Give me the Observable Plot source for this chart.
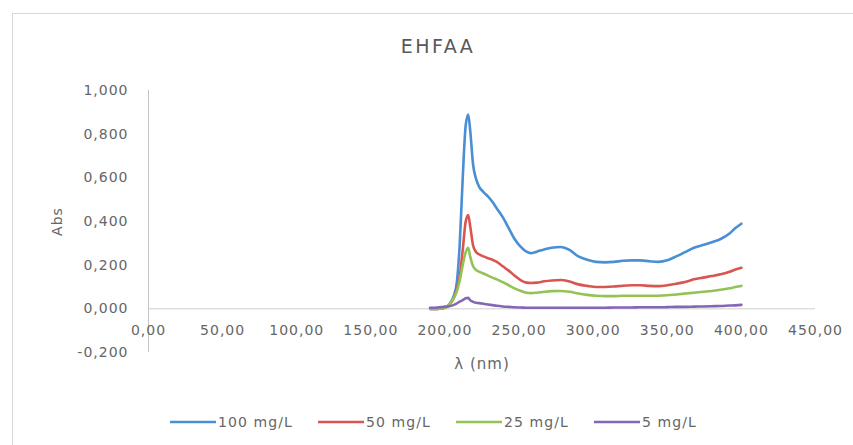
<!DOCTYPE html>
<html>
<head>
<meta charset="utf-8">
<script src="https://cdn.jsdelivr.net/npm/d3@7"></script>
<script src="https://cdn.jsdelivr.net/npm/@observablehq/plot@0.6"></script>
<style>
  html, body { margin: 0; padding: 0; background: #fff; width: 853px; height: 445px; overflow: hidden; }
  body { position: relative; font-family: "DejaVu Sans", sans-serif; color: #666; }
  #frame { position: absolute; left: 12px; top: 13px; width: 900px; height: 500px; border: 1px solid #d9d9d9; box-sizing: border-box; }
  #title { position: absolute; left: 0; width: 876px; top: 35px; text-align: center; font-size: 19px; letter-spacing: 2.5px; line-height: 22px; color: #595959; }
  #chart { position: absolute; left: 0; top: 70px; }
  #legend { position: absolute; left: 0; width: 867px; top: 412px; display: flex; justify-content: center; gap: 25px; font-size: 14px; letter-spacing: 1.1px; line-height: 20px; color: #666; }
  .item { display: flex; align-items: center; gap: 2px; }
  .item svg { display: block; }
</style>
</head>
<body>
<div id="frame"></div>
<div id="title">EHFAA</div>
<div id="chart"></div>
<div id="legend"></div>
<script>
// Data
const wavelengths = [190,195,200,203,206,208,210,212,214,215.7,217,219,221,223,226,229,232,235,239,243,247,251,255,258,262,267,272,278,284,290,296,302,308,314,320,326,332,338,344,350,356,362,368,374,380,386,392,396,400];
const abs100 = [0.000,0.000,0.005,0.020,0.060,0.120,0.300,0.600,0.840,0.890,0.820,0.660,0.595,0.560,0.535,0.515,0.490,0.460,0.420,0.370,0.320,0.285,0.262,0.255,0.262,0.272,0.280,0.283,0.270,0.240,0.225,0.215,0.213,0.215,0.220,0.222,0.222,0.218,0.215,0.222,0.240,0.260,0.280,0.292,0.305,0.320,0.345,0.370,0.390];
const abs50 = [0.000,0.000,0.005,0.020,0.050,0.090,0.150,0.270,0.400,0.430,0.380,0.290,0.260,0.250,0.240,0.232,0.225,0.215,0.195,0.175,0.152,0.132,0.120,0.118,0.120,0.126,0.130,0.132,0.125,0.112,0.105,0.100,0.100,0.102,0.106,0.108,0.108,0.105,0.104,0.108,0.115,0.123,0.135,0.143,0.150,0.158,0.170,0.180,0.188];
const abs25 = [0.000,0.000,0.005,0.020,0.050,0.080,0.130,0.200,0.260,0.280,0.240,0.195,0.178,0.170,0.162,0.152,0.143,0.135,0.122,0.108,0.094,0.083,0.074,0.072,0.074,0.078,0.081,0.082,0.078,0.070,0.064,0.060,0.058,0.058,0.060,0.060,0.060,0.060,0.060,0.062,0.066,0.070,0.074,0.078,0.082,0.087,0.094,0.100,0.105];
const abs5 = [0.005,0.006,0.010,0.012,0.018,0.025,0.033,0.040,0.048,0.050,0.040,0.032,0.028,0.026,0.023,0.020,0.017,0.014,0.011,0.009,0.007,0.006,0.005,0.005,0.005,0.005,0.005,0.005,0.005,0.005,0.005,0.005,0.005,0.006,0.006,0.006,0.007,0.007,0.007,0.008,0.009,0.009,0.010,0.011,0.012,0.013,0.015,0.016,0.018];
const seriesNames = ["100 mg/L", "50 mg/L", "25 mg/L", "5 mg/L"];
const seriesValues = [abs100, abs50, abs25, abs5];
const seriesColors = ["#4a8ed4", "#d95550", "#93c355", "#8466b4"];
const xTicks = [0, 50, 100, 150, 200, 250, 300, 350, 400, 450];
const yTicks = [-0.2, 0, 0.2, 0.4, 0.6, 0.8, 1.0];

const rows = [];
seriesNames.forEach((name, i) => {
  wavelengths.forEach((w, j) => rows.push({series: name, wl: w, abs: seriesValues[i][j]}));
});

const fmtX = d => d.toFixed(2).replace(".", ",");
const fmtY = d => d.toFixed(3).replace(".", ",");

const chart = Plot.plot({
  width: 853,
  height: 325,
  marginTop: 20,
  marginBottom: 43,
  marginLeft: 148,
  marginRight: 38,
  style: {fontFamily: "DejaVu Sans, sans-serif", fontSize: "14px", color: "#666", background: "transparent", letterSpacing: "1px"},
  x: {domain: [0, 450], axis: null},
  y: {domain: [-0.2, 1.0]},
  color: {domain: seriesNames, range: seriesColors},
  marks: [
    Plot.ruleY([0], {stroke: "#cfcfcf", strokeWidth: 1}),
    Plot.ruleX([0], {stroke: "#c4c4c4", strokeWidth: 1}),
    Plot.axisY(yTicks, {tickSize: 0, tickPadding: 20, tickFormat: fmtY, label: "Abs", labelAnchor: "center", labelArrow: "none", labelOffset: 96, fill: "#666"}),
    Plot.text(xTicks, {x: d => d, y: 0, dy: 22, text: d => fmtX(d), fill: "#666", textAnchor: "middle", fontSize: 14}),
    Plot.text(["λ (nm)"], {frameAnchor: "bottom", dy: 16, fill: "#666", fontSize: 15}),
    Plot.line(rows, {x: "wl", y: "abs", z: "series", stroke: "series", strokeWidth: 2.6, curve: "monotone-x"})
  ]
});
document.getElementById("chart").appendChild(chart);

const legend = document.getElementById("legend");
seriesNames.forEach((name, i) => {
  const item = document.createElement("div");
  item.className = "item";
  item.innerHTML = `<svg width="46" height="6"><line x1="0" x2="46" y1="3" y2="3" stroke="${seriesColors[i]}" stroke-width="2.5"/></svg><span>${name}</span>`;
  legend.appendChild(item);
});
</script>
</body>
</html>
